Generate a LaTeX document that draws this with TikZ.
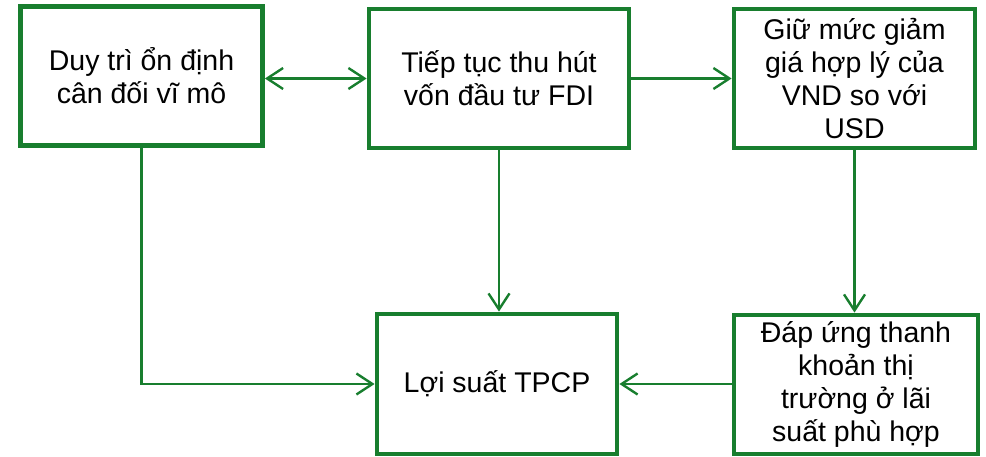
\documentclass[tikz,border=0pt]{standalone}
\usepackage{fontspec}
\setmainfont{Liberation Sans}
\usetikzlibrary{arrows.meta}
\definecolor{boxgreen}{RGB}{24,126,46}
\tikzset{
  stepbox/.style={draw=boxgreen, line width=4.8pt, fill=white, align=center,
    font=\fontsize{28.5}{33}\selectfont, inner sep=0pt},
  conn/.style={draw=boxgreen, line width=2.4pt,
    arrows={-Straight Barb[length=16pt,width=21pt,line width=2.4pt]}},
  conn2/.style={conn, arrows={Straight Barb[length=16pt,width=21pt,line width=2.4pt]-Straight Barb[length=16pt,width=21pt,line width=2.4pt]}}
}
\begin{document}
\begin{tikzpicture}[x=1pt,y=-1pt]
\useasboundingbox (0,0) rectangle (986,457);
\node[stepbox, minimum width=242pt, minimum height=139pt] (A) at (141.5,76)
  {Duy trì ổn định\\cân đối vĩ mô};
\node[stepbox, minimum width=260pt, minimum height=139pt] (B) at (499,78.5)
  {Tiếp tục thu hút\\vốn đầu tư FDI};
\node[stepbox, minimum width=241pt, minimum height=139pt] (C) at (854.5,78.5)
  {Giữ mức giảm\\giá hợp lý của\\VND so với\\USD};
\node[stepbox, minimum width=240pt, minimum height=140pt] (D) at (497,384)
  {Lợi suất TPCP};
\node[stepbox, minimum width=244pt, minimum height=139pt] (E) at (856,384.5)
  {Đáp ứng thanh\\khoản thị\\trường ở lãi\\suất phù hợp};

\draw[conn2] (A.east |- B.west) -- (B.west);
\draw[conn] (B.east) -- (C.west);
\draw[conn] (B.south) -- (B.south |- D.north);
\draw[conn] (A.south) |- (D.west);
\draw[conn] (C.south) -- (C.south |- E.north);
\draw[conn] (E.west |- D.east) -- (D.east);
\end{tikzpicture}
\end{document}
